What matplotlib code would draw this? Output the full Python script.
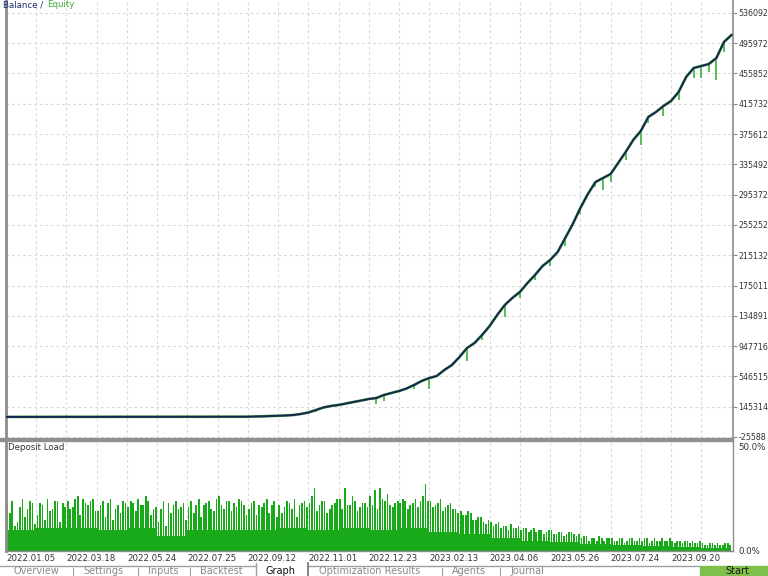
import numpy as np
import matplotlib.pyplot as plt
from matplotlib.patches import Rectangle
from matplotlib.lines import Line2D

# Balance curve, one point every quarter grid step (97 points)
balance = [10000, 10000, 10000, 10200, 10300, 10400, 10500, 10600, 10700, 10800,
           10900, 11000, 11000, 11100, 11200, 11300, 11400, 11400, 11500, 11600,
           11700, 11800, 11800, 11900, 12000, 12000, 12100, 12200, 12300, 12400,
           12500, 12600, 12800, 16000, 18000, 22000, 25000, 29000, 35000, 49000,
           68000, 101000, 135000, 155000, 168000, 188000, 208000, 227000, 247000, 260000,
           300000, 327000, 353000, 386000, 433000, 486000, 525000, 552000, 631000, 697000,
           803000, 922000, 989000, 1095000, 1214000, 1360000, 1492000, 1585000, 1664000, 1783000,
           1889000, 2008000, 2088000, 2194000, 2379000, 2564000, 2776000, 2962000, 3120000, 3173000,
           3226000, 3372000, 3518000, 3677000, 3796000, 3982000, 4047000, 4127000, 4193000, 4312000,
           4511000, 4630000, 4656000, 4683000, 4762000, 4974000, 5067000]

# Equity drawdowns below balance (point index, drop)
dip_idx = [41, 49, 50, 54, 56, 61, 63, 66, 68, 70, 72, 74, 76, 78, 79, 80, 82,
           84, 85, 87, 89, 91, 92, 93, 94, 95]
dip_size = [26000, 79000, 79000, 53000, 146000, 172000, 66000, 159000, 79000, 66000,
            79000, 106000, 79000, 66000, 159000, 106000, 106000, 185000, 79000, 132000,
            106000, 132000, 159000, 106000, 291000, 132000]

# Deposit load (%): solid base per grid step, and two rows of spikes (6 per grid step each)
load_base = [10, 11, 11, 10, 11, 7, 10, 10, 10, 11, 10, 11, 10, 11,
             9, 8, 6, 5, 4.5, 3.5, 3, 2.5, 2, 1.5]
load_peaks = [22, 24, 14, 25, 20, 23, 17, 22, 25, 20, 24, 23,
              24, 21, 26, 25, 22, 25, 19, 24, 23, 15, 22, 24,
              21, 23, 25, 22, 24, 20, 14, 24, 23, 22, 20, 23,
              21, 18, 25, 22, 24, 19, 26, 20, 24, 23, 25, 22,
              20, 24, 22, 23, 18, 24, 22, 21, 23, 25, 22, 24,
              23, 30, 22, 24, 20, 23, 25, 30, 22, 24, 21, 23,
              26, 29, 30, 24, 22, 23, 23, 24, 22, 25, 24, 32,
              24, 22, 25, 21, 23, 20, 19, 17, 18, 15, 16, 13,
              14, 13, 11, 12, 13, 11, 10, 11, 10, 9, 10, 9,
              10, 8, 9, 8, 9, 7, 6, 7, 6, 5, 6, 6,
              6, 5, 6, 5, 6, 5, 5, 6, 5, 5, 6, 5,
              5, 5, 4, 5, 5, 4, 4, 3, 4, 4, 3, 4]
load_peaks_b = [18, 12, 21, 16, 24, 13, 23, 15, 19, 24, 14, 21,
                20, 25, 17, 23, 24, 19, 22, 16, 25, 20, 18, 23,
                24, 19, 22, 26, 17, 21, 20, 12, 18, 24, 21, 15,
                24, 22, 16, 23, 20, 25, 22, 24, 19, 21, 24, 17,
                23, 17, 21, 25, 22, 16, 18, 24, 20, 16, 23, 21,
                26, 19, 24, 18, 22, 25, 20, 22, 26, 19, 23, 21,
                22, 20, 25, 27, 21, 24, 25, 20, 23, 21, 26, 24,
                21, 23, 19, 22, 20, 18, 17, 19, 15, 16, 14, 15,
                12, 14, 12, 10, 11, 12, 11, 9, 11, 10, 8, 10,
                8, 9, 7, 9, 8, 8, 7, 5, 6, 7, 5, 6,
                5, 6, 4, 6, 5, 6, 6, 4, 6, 5, 5, 6,
                4, 5, 5, 4, 4, 5, 3, 4, 3, 3, 4, 3]

date_labels = ["2022.01.05", "2022.03.18", "2022.05.24", "2022.07.25", "2022.09.12",
               "2022.11.01", "2022.12.23", "2023.02.13", "2023.04.06", "2023.05.26",
               "2023.07.24", "2023.09.20"]

y_tick_start = -255886
y_tick_step = 401200.2
y_tick_labels = ["-25588", "145314", "546515", "947716", "134891", "175011", "215132",
                 "255252", "295372", "335492", "375612", "415732", "455852", "495972", "536092"]

W, H = 768, 576
fig = plt.figure(figsize=(W / 100, H / 100), dpi=100)
plt.rcParams['font.family'] = ['DejaVu Sans']

grid_kw = dict(color="#d9d9d9", linestyle=(0, (2.5, 2.5)), linewidth=0.8)
frame = "#8c8c8c"
fs = 6.2
yfs = 5.7

def fx(px):
    return px / W

def fy(py):
    return 1 - py / H

n_grid = 24

# ---- main balance / equity panel
ax = fig.add_axes([fx(6), fy(438), fx(727), 438 / H])
x = np.linspace(0, n_grid, len(balance))
bal = np.array(balance, dtype=float)
equity = bal.copy()
equity[dip_idx] -= np.array(dip_size)
ax.vlines(x[dip_idx], equity[dip_idx], bal[dip_idx], color="#4cb84c", linewidth=1.3, zorder=2)
ax.plot(x, bal, color="#6cc45a", linewidth=2.0, zorder=2)
ax.plot(x, bal, color="#15284f", linewidth=1.5, zorder=3)

ax.set_xlim(0, n_grid + 0.05)
ax.set_ylim(-269127, 5530431)
yt = [y_tick_start + i * y_tick_step for i in range(len(y_tick_labels))]
ax.set_yticks(yt)
ax.set_yticklabels(y_tick_labels)
ax.yaxis.tick_right()
ax.tick_params(axis="y", length=3, color=frame, pad=1, labelsize=yfs, labelcolor="#333333")
ax.set_xticks(np.arange(n_grid))
ax.tick_params(axis="x", length=0, labelbottom=False)
ax.grid(True, **grid_kw)
for s in ["top", "bottom"]:
    ax.spines[s].set_visible(False)
ax.spines["left"].set_color(frame)
ax.spines["left"].set_linewidth(2)
ax.spines["right"].set_color(frame)
ax.spines["right"].set_linewidth(1.2)

fig.text(fx(3), fy(4.5), "Balance / ", color="#1b2d6f", fontsize=fs, va="center", ha="left")
fig.text(fx(47), fy(4.5), "Equity", color="#3caa3c", fontsize=fs, va="center", ha="left")

# ---- deposit load panel
green = "#19aa19"
ax2 = fig.add_axes([fx(6), fy(551), fx(727), 110 / H])
ax2.bar(np.arange(n_grid) + 0.5, load_base, width=1.0, color=green, zorder=2)
xa = (np.arange(len(load_peaks)) + 0.25) / 6
xb = (np.arange(len(load_peaks_b)) + 0.75) / 6
ax2.bar(xa, load_peaks, width=0.055, color=green, zorder=2)
ax2.bar(xb, load_peaks_b, width=0.055, color=green, zorder=2)
ax2.set_xlim(0, n_grid + 0.05)
ax2.set_ylim(0, 52.4)
ax2.set_yticks([0, 50])
ax2.set_yticklabels(["0.0%", "50.0%"])
ax2.yaxis.tick_right()
ax2.tick_params(axis="y", length=0, pad=4, labelsize=fs, labelcolor="#333333")
ax2.set_xticks(np.arange(n_grid))
xl = []
for i in range(n_grid):
    xl.append(date_labels[i // 2] if i % 2 == 0 else "")
ax2.set_xticklabels(xl, ha="left")
ax2.tick_params(axis="x", length=0, pad=2, labelsize=fs, labelcolor="#333333")
ax2.grid(True, axis="x", **grid_kw)
ax2.spines["top"].set_visible(False)
for s in ["left", "right", "bottom"]:
    ax2.spines[s].set_color(frame)
    ax2.spines[s].set_linewidth(1.0)
ax2.spines["left"].set_linewidth(2)
ax2.text(0.05, 51.5, "Deposit Load", fontsize=fs, color="#333333", va="top", ha="left")

# separator between panels
fig.patches.append(Rectangle((0, fy(441)), fx(733), 3.5 / H, transform=fig.transFigure,
                             color="#8f8f8f", zorder=5))

# ---- tab strip at the bottom
fig.add_artist(Line2D([0, fx(256)], [fy(565.5)] * 2, color="#a0a0a0", lw=1, transform=fig.transFigure))
fig.add_artist(Line2D([fx(308), fx(700)], [fy(565.5)] * 2, color="#a0a0a0", lw=1, transform=fig.transFigure))
fig.add_artist(Line2D([fx(256), fx(256)], [0, fy(563)], color="#a0a0a0", lw=1, transform=fig.transFigure))
fig.add_artist(Line2D([fx(308), fx(308)], [0, fy(563)], color="#707070", lw=1.2, transform=fig.transFigure))
for sx in [73, 138, 190, 442, 500]:
    fig.add_artist(Line2D([fx(sx)] * 2, [0, fy(568)], color="#a0a0a0", lw=0.8, transform=fig.transFigure))
tabs = ["Overview", "Settings", "Inputs", "Backtest", "Graph", "Optimization Results", "Agents", "Journal"]
tab_x = [14, 83, 148, 200, 265, 319, 452, 510]
for t, tx in zip(tabs, tab_x):
    fig.text(fx(tx), fy(570.5), t, fontsize=7, va="center", ha="left",
             color="#111111" if t == "Graph" else "#8a8a8a")
fig.patches.append(Rectangle((fx(700), 0), fx(68), 10 / H, transform=fig.transFigure,
                             color="#7fc04a", zorder=1))
fig.text(fx(737), fy(571), "Start", fontsize=7, va="center", ha="center", color="#1a1a1a")

plt.savefig("out.png", dpi=100)
